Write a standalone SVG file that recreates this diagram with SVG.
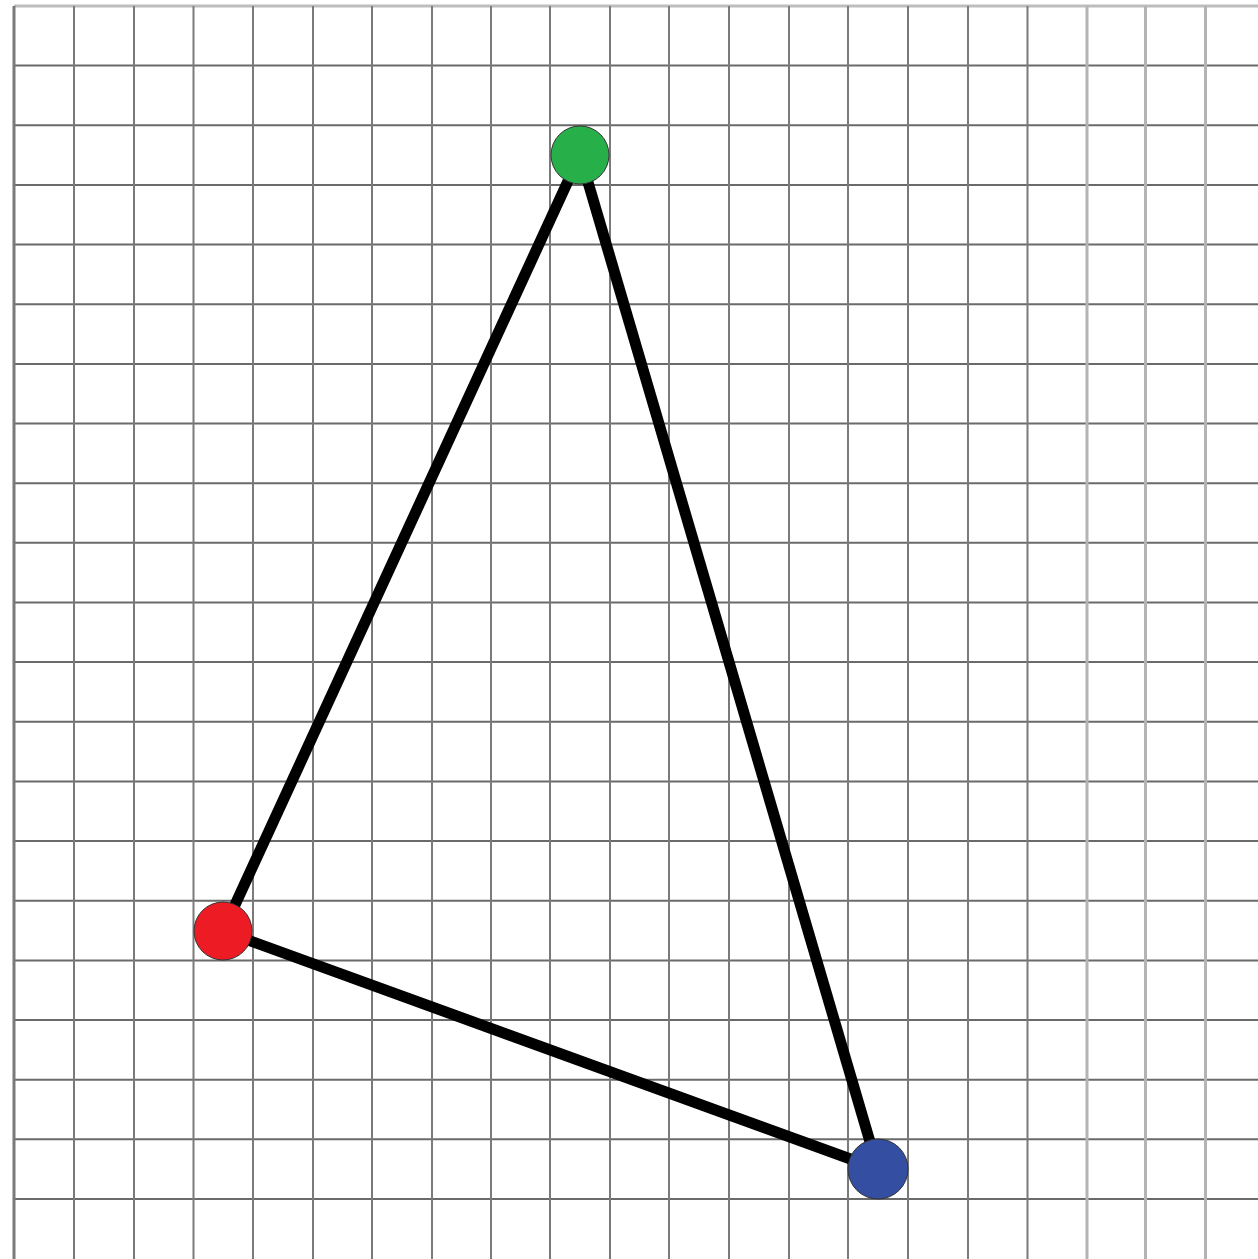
<svg xmlns="http://www.w3.org/2000/svg" width="1258" height="1259" viewBox="0 0 1258 1259">
<style>
.v{stroke:#7a7a7a;stroke-width:2}
.vl{stroke:#b4b4b4;stroke-width:3}
.h{stroke:#6a6a6a;stroke-width:2}
.e{stroke:#000;stroke-width:11;stroke-linecap:butt}
.n{stroke:#333;stroke-width:1}
</style>
<rect width="1258" height="1259" fill="#fff"/>
<g id="grid">
<line x1="14" y1="6" x2="1258" y2="6" stroke="#bdbdbd" stroke-width="3"/>
<g class="h">
<line x1="14" y1="65.6" x2="1258" y2="65.6"/>
<line x1="14" y1="125.3" x2="1258" y2="125.3"/>
<line x1="14" y1="184.9" x2="1258" y2="184.9"/>
<line x1="14" y1="244.6" x2="1258" y2="244.6"/>
<line x1="14" y1="304.2" x2="1258" y2="304.2"/>
<line x1="14" y1="363.9" x2="1258" y2="363.9"/>
<line x1="14" y1="423.5" x2="1258" y2="423.5"/>
<line x1="14" y1="483.2" x2="1258" y2="483.2"/>
<line x1="14" y1="542.8" x2="1258" y2="542.8"/>
<line x1="14" y1="602.5" x2="1258" y2="602.5"/>
<line x1="14" y1="662.1" x2="1258" y2="662.1"/>
<line x1="14" y1="721.8" x2="1258" y2="721.8"/>
<line x1="14" y1="781.4" x2="1258" y2="781.4"/>
<line x1="14" y1="841.1" x2="1258" y2="841.1"/>
<line x1="14" y1="900.7" x2="1258" y2="900.7"/>
<line x1="14" y1="960.4" x2="1258" y2="960.4"/>
<line x1="14" y1="1020" x2="1258" y2="1020"/>
<line x1="14" y1="1079.7" x2="1258" y2="1079.7"/>
<line x1="14" y1="1139.3" x2="1258" y2="1139.3"/>
<line x1="14" y1="1199" x2="1258" y2="1199"/>
</g>
<g class="v">
<line x1="14" y1="6" x2="14" y2="1259" stroke-width="3"/>
<line x1="74" y1="6" x2="74" y2="1259"/>
<line x1="134" y1="6" x2="134" y2="1259"/>
<line x1="193.5" y1="6" x2="193.5" y2="1259"/>
<line x1="253" y1="6" x2="253" y2="1259"/>
<line x1="313" y1="6" x2="313" y2="1259"/>
<line x1="372" y1="6" x2="372" y2="1259"/>
<line x1="432" y1="6" x2="432" y2="1259"/>
<line x1="491" y1="6" x2="491" y2="1259"/>
<line x1="550" y1="6" x2="550" y2="1259"/>
<line x1="610" y1="6" x2="610" y2="1259"/>
<line x1="669" y1="6" x2="669" y2="1259"/>
<line x1="729" y1="6" x2="729" y2="1259"/>
<line x1="789" y1="6" x2="789" y2="1259"/>
<line x1="848" y1="6" x2="848" y2="1259"/>
<line x1="908" y1="6" x2="908" y2="1259"/>
<line x1="968" y1="6" x2="968" y2="1259"/>
<line x1="1027.5" y1="6" x2="1027.5" y2="1259"/>
</g>
<g class="vl">
<line x1="1087" y1="6" x2="1087" y2="1259"/>
<line x1="1145.5" y1="6" x2="1145.5" y2="1259"/>
<line x1="1205.5" y1="6" x2="1205.5" y2="1259"/>
</g>
</g>
<g id="connectors">
<line class="e" x1="580" y1="155" x2="223" y2="931"/>
<line class="e" x1="580" y1="155" x2="878" y2="1169"/>
<line class="e" x1="223" y1="931" x2="878" y2="1169"/>
</g>
<g id="node-green"><circle class="n" cx="580" cy="155" r="29" fill="#27b04a"/></g>
<g id="node-red"><circle class="n" cx="223" cy="931" r="29" fill="#ed1c24"/></g>
<g id="node-blue"><circle class="n" cx="878" cy="1169" r="30" fill="#344ea1"/></g>
</svg>
